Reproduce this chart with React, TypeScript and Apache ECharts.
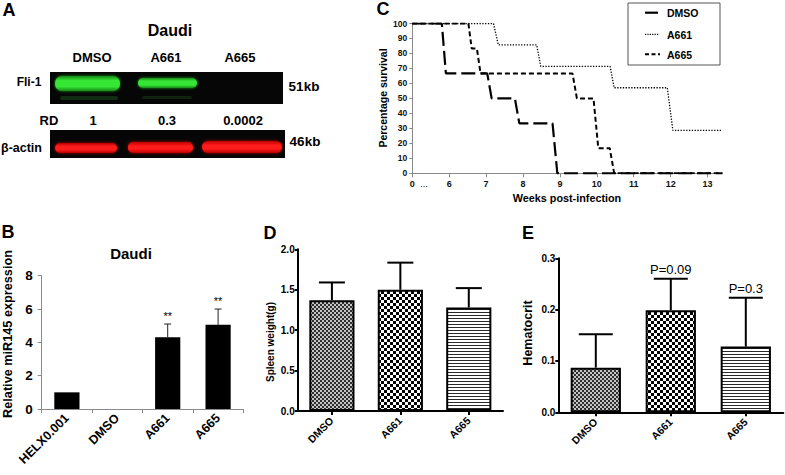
import React, { useEffect, useRef } from 'react';
import * as echarts from 'echarts';

const FONT = '"Liberation Sans", Arial, Helvetica, sans-serif';

// ---------- Panel A (western blot) ----------
const blotLanes = ['DMSO', 'A661', 'A665'];
const rdValues = ['1', '0.3', '0.0002'];

// ---------- Panel B ----------
const catsB = ['HELX0.001', 'DMSO', 'A661', 'A665'];
const valsB = [1.0, 0, 4.3, 5.05];
const errB = [0, 0, 0.8, 0.95];
const sigB = ['', '', '**', '**'];

// ---------- Panel C (survival, weeks; axis shows 0 at 5 because of the break) ----------
const wDMSO = [5, 5.8, 5.91, 7.03, 7.15, 7.78, 7.9, 8.8, 8.93, 13.4];
const sDMSO = [100, 100, 66.7, 66.7, 50, 50, 33.3, 33.3, 0, 0];
const wA661 = [5, 7.2, 7.33, 8.37, 8.48, 10.36, 10.47, 11.91, 12.06, 13.4];
const sA661 = [100, 100, 85.7, 85.7, 71.4, 71.4, 57.1, 57.1, 28.6, 28.6];
const wA665 = [5, 6.52, 6.61, 6.75, 6.85, 9.34, 9.46, 9.91, 10.04, 10.35, 10.47, 13.4];
const sA665 = [100, 100, 83.3, 83.3, 66.7, 66.7, 50, 50, 16.7, 16.7, 0, 0];

// ---------- Panels D and E ----------
const catsDE = ['DMSO', 'A661', 'A665'];
const valsD = [1.37, 1.5, 1.28];
const errD = [0.22, 0.335, 0.24];
const valsE = [0.087, 0.199, 0.128];
const errE = [0.065, 0.061, 0.095];
const pE = ['', 'P=0.09', 'P=0.3'];

function tile(w: number, h: number, draw: (ctx: CanvasRenderingContext2D) => void) {
  const c = document.createElement('canvas');
  c.width = w;
  c.height = h;
  const ctx = c.getContext('2d') as CanvasRenderingContext2D;
  draw(ctx);
  return { image: c, repeat: 'repeat', imageWidth: w, imageHeight: h } as any;
}

function makePatterns() {
  const fine = tile(4, 4, (ctx) => {
    ctx.fillStyle = '#c4c4c4';
    ctx.fillRect(0, 0, 4, 4);
    ctx.fillStyle = '#303030';
    ctx.fillRect(0, 0, 2, 2);
    ctx.fillRect(2, 2, 2, 2);
  });
  const checker = tile(6, 6, (ctx) => {
    ctx.fillStyle = '#ffffff';
    ctx.fillRect(0, 0, 6, 6);
    ctx.fillStyle = '#000000';
    ctx.fillRect(0, 0, 3, 3);
    ctx.fillRect(3, 3, 3, 3);
  });
  const hlines = tile(4, 3, (ctx) => {
    ctx.fillStyle = '#ffffff';
    ctx.fillRect(0, 0, 4, 3);
    ctx.fillStyle = '#2a2a2a';
    ctx.fillRect(0, 0, 4, 1);
  });
  return [fine, checker, hlines];
}

const txt = (
  x: number,
  y: number,
  text: string,
  size: number,
  weight = 'bold',
  align = 'center',
  rotation = 0
) => ({
  type: 'text',
  x,
  y,
  rotation,
  silent: true,
  style: {
    text,
    font: `${weight} ${size}px ${FONT}`,
    fill: '#000',
    textAlign: align,
    textVerticalAlign: 'middle',
    align,
    verticalAlign: 'middle',
  },
});

function errRenderer(capW: number, lw: number, color: string, labels: string[], font: string, gap: number) {
  return (params: any, api: any) => {
    const i = api.value(0);
    const v = api.value(1);
    const top = api.value(2);
    const p0 = api.coord([i, v]);
    const p1 = api.coord([i, top]);
    const children: any[] = [];
    if (top > v) {
      children.push({
        type: 'line',
        shape: { x1: p0[0], y1: p0[1], x2: p1[0], y2: p1[1] },
        style: { stroke: color, lineWidth: lw },
      });
      children.push({
        type: 'line',
        shape: { x1: p1[0] - capW / 2, y1: p1[1], x2: p1[0] + capW / 2, y2: p1[1] },
        style: { stroke: color, lineWidth: lw },
      });
    }
    const label = labels[params.dataIndex];
    if (label) {
      children.push({
        type: 'text',
        x: p1[0],
        y: p1[1] - gap,
        style: {
          text: label,
          font,
          fill: '#000',
          textAlign: 'center',
          textVerticalAlign: 'bottom',
          align: 'center',
          verticalAlign: 'bottom',
        },
      });
    }
    return { type: 'group', children };
  };
}

const zip = (xs: number[], ys: number[]) => xs.map((x, i) => [x, ys[i]]);

export default function App() {
  const ref = useRef<HTMLDivElement>(null);

  useEffect(() => {
    if (!ref.current) return;
    const chart = echarts.init(ref.current, null, { renderer: 'svg' });
    const pats = makePatterns();

    const green = new echarts.graphic.LinearGradient(0, 0, 0, 1, [
      { offset: 0, color: '#168a16' },
      { offset: 0.3, color: '#35e635' },
      { offset: 0.7, color: '#35e635' },
      { offset: 1, color: '#168a16' },
    ]);
    const red = new echarts.graphic.LinearGradient(0, 0, 0, 1, [
      { offset: 0, color: '#b80000' },
      { offset: 0.35, color: '#ff1a1a' },
      { offset: 0.65, color: '#ff1a1a' },
      { offset: 1, color: '#b80000' },
    ]);

    const laneX = [92, 166, 240];
    const graphics: any[] = [
      // Panel A
      txt(9, 10, 'A', 18),
      txt(170, 30, 'Daudi', 16),
      ...blotLanes.map((l, i) => txt(laneX[i], 57, l, 13)),
      { type: 'rect', silent: true, shape: { x: 50, y: 72, width: 233, height: 32 }, style: { fill: '#060606' } },
      { type: 'rect', silent: true, shape: { x: 55, y: 76, width: 65, height: 15, r: 7 }, style: { fill: green, shadowBlur: 3, shadowColor: '#1fa01f' } },
      { type: 'rect', silent: true, shape: { x: 138, y: 78, width: 59, height: 10, r: 5 }, style: { fill: green, shadowBlur: 3, shadowColor: '#1fa01f' } },
      { type: 'rect', silent: true, shape: { x: 60, y: 96, width: 58, height: 4, r: 2 }, style: { fill: 'rgba(40,120,40,0.35)' } },
      { type: 'rect', silent: true, shape: { x: 142, y: 96, width: 50, height: 3, r: 1.5 }, style: { fill: 'rgba(40,120,40,0.25)' } },
      txt(29, 82, 'Fli-1', 12),
      txt(304, 86, '51kb', 13.5),
      txt(49, 120, 'RD', 13),
      ...rdValues.map((r, i) => txt([93, 167, 243][i], 120, r, 13)),
      { type: 'rect', silent: true, shape: { x: 50, y: 130, width: 235, height: 28 }, style: { fill: '#060606' } },
      { type: 'rect', silent: true, shape: { x: 55, y: 143, width: 62, height: 10, r: 5 }, style: { fill: red, shadowBlur: 3, shadowColor: '#c00000' } },
      { type: 'rect', silent: true, shape: { x: 128, y: 142, width: 65, height: 11, r: 5 }, style: { fill: red, shadowBlur: 3, shadowColor: '#c00000' } },
      { type: 'rect', silent: true, shape: { x: 202, y: 141, width: 80, height: 12, r: 6 }, style: { fill: red, shadowBlur: 3, shadowColor: '#c00000' } },
      txt(21.5, 148, 'β-actin', 12.5),
      txt(305, 141, '46kb', 13.5),

      // Panel letters & titles
      txt(8, 232, 'B', 18),
      txt(131, 253, 'Daudi', 15),
      txt(383, 9, 'C', 18),
      txt(270, 233, 'D', 18),
      txt(528, 233, 'E', 18),

      // Axis names
      txt(8, 334, 'Relative miR145 expression', 12.7, 'bold', 'center', Math.PI / 2),
      txt(383, 98, 'Percentage survival', 10.5, 'bold', 'center', Math.PI / 2),
      txt(567, 198, 'Weeks post-infection', 10.8),
      txt(270, 342, 'Spleen weight(g)', 10, 'bold', 'center', Math.PI / 2),
      txt(527.5, 333, 'Hematocrit', 12.5, 'bold', 'center', Math.PI / 2),
      txt(424, 184, '...', 9, 'normal'),

      // Legend for C
      { type: 'rect', silent: true, shape: { x: 628, y: 3, width: 92, height: 62 }, style: { fill: '#fff', stroke: '#555', lineWidth: 1 } },
      { type: 'line', silent: true, shape: { x1: 645, y1: 12.7, x2: 658, y2: 12.7 }, style: { stroke: '#000', lineWidth: 2.2 } },
      { type: 'line', silent: true, shape: { x1: 645, y1: 34.3, x2: 659, y2: 34.3 }, style: { stroke: '#000', lineWidth: 1.2, lineDash: [1.2, 1.2] } },
      { type: 'line', silent: true, shape: { x1: 645, y1: 54.3, x2: 660, y2: 54.3 }, style: { stroke: '#000', lineWidth: 2, lineDash: [4, 2.5] } },
      txt(667, 13, 'DMSO', 10.5, 'bold', 'left'),
      txt(667, 34.5, 'A661', 10.5, 'bold', 'left'),
      txt(667, 54.5, 'A665', 10.5, 'bold', 'left'),
    ];

    const grayAxis = { lineStyle: { color: '#8a8a8a', width: 1 } };
    const blackAxis = { lineStyle: { color: '#000', width: 2 } };

    const option: any = {
      animation: false,
      backgroundColor: '#fff',
      textStyle: { fontFamily: FONT },
      grid: [
        { left: 41.7, top: 275.7, width: 201.6, height: 133.3 },
        { left: 412.3, top: 23.5, width: 310, height: 149.8 },
        { left: 297.7, top: 249.3, width: 205.3, height: 161.7 },
        { left: 558.3, top: 258.3, width: 225, height: 154 },
      ],
      xAxis: [
        {
          type: 'category',
          gridIndex: 0,
          data: catsB,
          axisLine: grayAxis,
          axisTick: { show: true, length: 4, lineStyle: { color: '#8a8a8a' } },
          axisLabel: { interval: 0, rotate: 45, margin: 7, color: '#000', fontWeight: 'bold', fontSize: 12.5, fontFamily: FONT },
        },
        {
          type: 'value',
          gridIndex: 1,
          min: 5,
          max: 13.4,
          interval: 1,
          splitLine: { show: false },
          axisLine: grayAxis,
          axisTick: { show: true, length: 4, lineStyle: { color: '#8a8a8a' } },
          axisLabel: {
            color: '#111',
            fontWeight: 'bold',
            fontSize: 9,
            fontFamily: FONT,
            margin: 6,
            showMaxLabel: false,
            formatter: (v: number) => (v === 5 ? '0' : String(v)),
          },
        },
        {
          type: 'category',
          gridIndex: 2,
          data: catsDE,
          axisLine: blackAxis,
          axisTick: { show: true, alignWithLabel: true, length: 4, lineStyle: { color: '#000', width: 2 } },
          axisLabel: { interval: 0, rotate: 45, margin: 8, color: '#000', fontWeight: 'bold', fontSize: 10.5, fontFamily: FONT },
        },
        {
          type: 'category',
          gridIndex: 3,
          data: catsDE,
          axisLine: blackAxis,
          axisTick: { show: true, alignWithLabel: true, length: 4, lineStyle: { color: '#000', width: 2 } },
          axisLabel: { interval: 0, rotate: 45, margin: 8, color: '#000', fontWeight: 'bold', fontSize: 10.5, fontFamily: FONT },
        },
      ],
      yAxis: [
        {
          type: 'value',
          gridIndex: 0,
          min: 0,
          max: 8,
          interval: 2,
          splitLine: { show: false },
          axisLine: { show: true, ...grayAxis },
          axisTick: { show: true, length: 4, lineStyle: { color: '#8a8a8a' } },
          axisLabel: { color: '#000', fontWeight: 'bold', fontSize: 13.5, fontFamily: FONT, margin: 9 },
        },
        {
          type: 'value',
          gridIndex: 1,
          min: 0,
          max: 100,
          interval: 10,
          splitLine: { show: false },
          axisLine: { show: true, ...grayAxis },
          axisTick: { show: true, length: 3, lineStyle: { color: '#8a8a8a' } },
          axisLabel: { color: '#111', fontWeight: 'bold', fontSize: 8.5, fontFamily: FONT, margin: 5 },
        },
        {
          type: 'value',
          gridIndex: 2,
          min: 0,
          max: 2,
          interval: 0.5,
          splitLine: { show: false },
          axisLine: { show: true, ...blackAxis },
          axisTick: { show: true, length: 3, lineStyle: { color: '#000', width: 2 } },
          axisLabel: { color: '#000', fontWeight: 'bold', fontSize: 10, fontFamily: FONT, margin: 3, formatter: (v: number) => v.toFixed(1) },
        },
        {
          type: 'value',
          gridIndex: 3,
          min: 0,
          max: 0.3,
          interval: 0.1,
          splitLine: { show: false },
          axisLine: { show: true, ...blackAxis },
          axisTick: { show: true, length: 3, lineStyle: { color: '#000', width: 2 } },
          axisLabel: { color: '#000', fontWeight: 'bold', fontSize: 10, fontFamily: FONT, margin: 3, formatter: (v: number) => v.toFixed(1) },
        },
      ],
      series: [
        // Panel B
        {
          type: 'bar',
          xAxisIndex: 0,
          yAxisIndex: 0,
          data: valsB,
          barWidth: '50%',
          itemStyle: { color: '#000' },
        },
        {
          type: 'custom',
          xAxisIndex: 0,
          yAxisIndex: 0,
          data: valsB.map((v, i) => [i, v, v + errB[i]]),
          renderItem: errRenderer(7, 1, '#222', sigB, `normal 11px ${FONT}`, 3),
          itemStyle: { color: '#000' },
          z: 5,
        },
        // Panel C
        {
          type: 'line',
          xAxisIndex: 1,
          yAxisIndex: 1,
          data: zip(wA661, sA661),
          showSymbol: false,
          lineStyle: { color: '#000', width: 1.3, type: [1.3, 1.5] },
        },
        {
          type: 'line',
          xAxisIndex: 1,
          yAxisIndex: 1,
          data: zip(wA665, sA665),
          showSymbol: false,
          lineStyle: { color: '#000', width: 2, type: [5, 3] },
        },
        {
          type: 'line',
          xAxisIndex: 1,
          yAxisIndex: 1,
          data: zip(wDMSO, sDMSO),
          showSymbol: false,
          lineStyle: { color: '#000', width: 2.2, type: [14, 5] },
        },
        // Panel D
        {
          type: 'bar',
          xAxisIndex: 2,
          yAxisIndex: 2,
          barWidth: '66%',
          data: valsD.map((v, i) => ({ value: v, itemStyle: { color: pats[i], borderColor: '#000', borderWidth: 2 } })),
        },
        {
          type: 'custom',
          xAxisIndex: 2,
          yAxisIndex: 2,
          data: valsD.map((v, i) => [i, v, v + errD[i]]),
          renderItem: errRenderer(26, 2, '#000', ['', '', ''], `normal 12px ${FONT}`, 4),
          itemStyle: { color: '#000' },
          z: 5,
        },
        // Panel E
        {
          type: 'bar',
          xAxisIndex: 3,
          yAxisIndex: 3,
          barWidth: '67%',
          data: valsE.map((v, i) => ({ value: v, itemStyle: { color: pats[i], borderColor: '#000', borderWidth: 2 } })),
        },
        {
          type: 'custom',
          xAxisIndex: 3,
          yAxisIndex: 3,
          data: valsE.map((v, i) => [i, v, v + errE[i]]),
          renderItem: errRenderer(34, 2, '#000', pE, `normal 13px ${FONT}`, 3),
          itemStyle: { color: '#000' },
          z: 5,
        },
      ],
      graphic: graphics,
    };

    chart.setOption(option);
    return () => chart.dispose();
  }, []);

  return (
    <div
      ref={ref}
      style={{ position: 'fixed', left: 0, top: 0, width: 785, height: 475, background: '#fff' }}
    />
  );
}
